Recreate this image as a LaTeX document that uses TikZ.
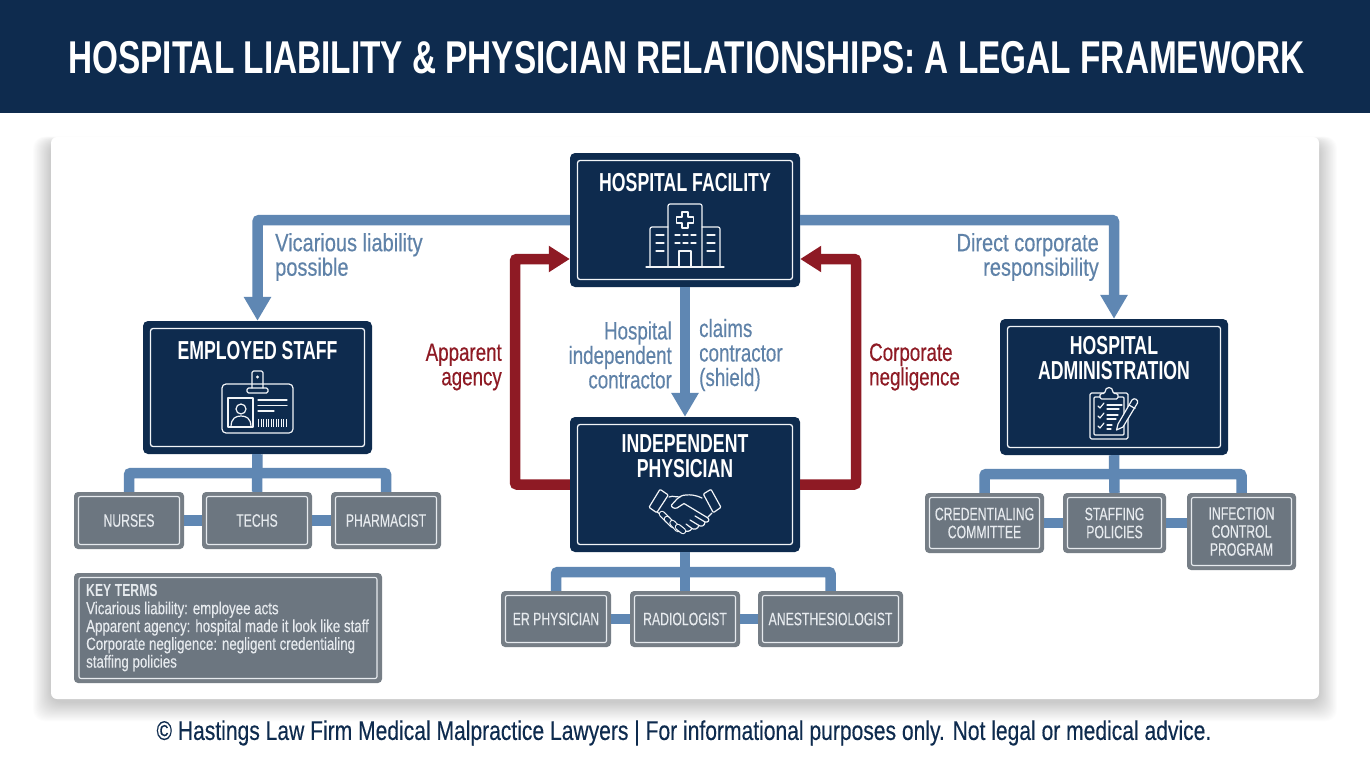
\documentclass[tikz,border=0pt]{standalone}
\usepackage{fontspec}
\usetikzlibrary{arrows.meta,calc}
\setmainfont{Liberation Sans}
\newfontfamily\nar[FakeStretch=0.68,FakeBold=0.25]{Liberation Sans}
\newfontfamily\narlab[FakeStretch=0.75,FakeBold=0.35]{Liberation Sans}
\newfontfamily\nartop[FakeStretch=0.80,FakeBold=0.35]{Liberation Sans}
\newfontfamily\narkey[FakeStretch=0.76,FakeBold=0.2]{Liberation Sans}
\newfontfamily\narkeyb[FakeStretch=0.70]{Liberation Sans}
\newfontfamily\narfoot[FakeStretch=0.78,FakeBold=0.3]{Liberation Sans}
\newfontfamily\narb[FakeStretch=0.68]{Liberation Sans}
\newfontfamily\narti[FakeStretch=0.725]{Liberation Sans}
\definecolor{navy}{HTML}{0E2B4E}
\definecolor{linkblue}{HTML}{5F87B3}
\definecolor{lblblue}{HTML}{5F82A8}
\definecolor{wine}{HTML}{8E1A24}
\definecolor{greyedge}{HTML}{767E86}
\definecolor{greyfill}{HTML}{6C7680}
\definecolor{icon}{HTML}{F2F5F8}
\definecolor{subline}{HTML}{E6EAEE}
\tikzset{
  bigbox/.style={fill=navy,rounded corners=5pt,inner sep=0,draw=none},
  biginner/.style={draw=icon,line width=1.3pt,rounded corners=2.5pt,inner sep=0,fill=none},
  subbox/.style={fill=greyedge,rounded corners=4pt,inner sep=0,draw=none},
  subinner/.style={draw=subline,fill=greyfill,line width=1.1pt,rounded corners=2pt,inner sep=0},
  bigtxt/.style={inner sep=0,align=center,text=white,font=\narb\bfseries\fontsize{26}{25}\selectfont},
  subtxt/.style={inner sep=0,align=center,text=subline,font=\nar\fontsize{18}{18}\selectfont},
  lab/.style={inner sep=0,font=\narlab\fontsize{25}{24.5}\selectfont},
  toplab/.style={inner sep=0,font=\nartop\fontsize{25}{24.5}\selectfont},
  bluelink/.style={draw=linkblue,line width=10.5pt,rounded corners=2pt},
  bluearrow/.style={bluelink,-{Triangle[length=24pt,width=26pt]}},
  redarrow/.style={draw=wine,line width=10.5pt,rounded corners=2pt,-{Triangle[length=21pt,width=25pt]}},
  ico/.style={draw=icon,line width=1.2pt,line cap=round,line join=round},
}
\newcommand{\bigb}[5]{% name x1 y1 x2 y2
  \node[bigbox,minimum width=(#4-#2)*1pt,minimum height=(#5-#3)*1pt] (#1) at ({(#2+#4)/2},{(#3+#5)/2}) {};
  \node[biginner,minimum width=(#4-#2-15)*1pt,minimum height=(#5-#3-15)*1pt] (#1i) at (#1.center) {};}
\newcommand{\subb}[6]{% name x1 y1 x2 y2 text
  \node[subbox,minimum width=(#4-#2)*1pt,minimum height=(#5-#3)*1pt] (#1) at ({(#2+#4)/2},{(#3+#5)/2}) {};
  \node[subinner,minimum width=(#4-#2-9)*1pt,minimum height=(#5-#3-9)*1pt,subtxt] (#1i) at (#1.center) {#6};}
\begin{document}
\begin{tikzpicture}[x=1pt,y=-1pt]
\useasboundingbox (0,0) rectangle (1370,765);
\fill[white] (0,0) rectangle (1370,765);
\fill[navy] (0,0) rectangle (1370,113);
\node[inner sep=0,text=white,font=\narti\bfseries\fontsize{46}{47}\selectfont] (title) at (686.5,58) {HOSPITAL LIABILITY \& PHYSICIAN RELATIONSHIPS: A LEGAL FRAMEWORK};
% panel + shadow
\foreach \s in {1,...,26}{
  \fill[black,opacity=0.007,rounded corners=12pt] ({51-\s*.7},{143-\s*.25}) rectangle ({1319+\s*.7},{702+\s*.75});
}
\node[fill=white,rounded corners=6pt,inner sep=0,minimum width=1268pt,minimum height=562pt] (panel) at (685,418) {};

% connector anchors
\coordinate (busE) at (257.5,473);
\coordinate (busI) at (685,572);
\coordinate (busA) at (1114,474);
\coordinate (rl) at (515,259);
\coordinate (rr) at (856,259);

% boxes
\bigb{hosp}{570}{153}{800}{287}
\bigb{emp}{143}{321}{372}{454}
\bigb{ind}{570}{417}{800}{552}
\bigb{adm}{1000}{319}{1228}{455}
\node[bigtxt] (thosp) at (685,183) {HOSPITAL FACILITY};
\node[bigtxt] (temp) at (257.5,351) {EMPLOYED STAFF};
\node[bigtxt] (tind) at (685,456.5) {INDEPENDENT\\PHYSICIAN};
\node[bigtxt] (tadm) at (1114,358.5) {HOSPITAL\\ADMINISTRATION};

% sub-boxes
\subb{nur}{74}{492}{184}{549}{NURSES}
\subb{tec}{202}{492}{312}{549}{TECHS}
\subb{pha}{331}{492}{441}{549}{PHARMACIST}
\subb{er}{501}{591}{611}{647}{ER PHYSICIAN}
\subb{rad}{630}{591}{740}{647}{RADIOLOGIST}
\subb{ane}{758}{591}{903}{647}{ANESTHESIOLOGIST}
\subb{cre}{925}{493}{1044}{553}{CREDENTIALING\\COMMITTEE}
\subb{sta}{1063}{493}{1166}{553}{STAFFING\\POLICIES}
\subb{inf}{1187}{493}{1296}{570}{INFECTION\\CONTROL\\PROGRAM}

% key terms
\node[fill=greyedge,rounded corners=4pt,inner sep=0,minimum width=308pt,minimum height=110pt] (key) at (228,628) {};
\node[draw=subline,fill=greyfill,line width=1.1pt,rounded corners=2pt,minimum width=298pt,minimum height=101pt,inner sep=0] (keyi) at (key.center) {};
\node[inner sep=0,anchor=north west,align=left,text=subline,font=\narkey\fontsize{17.5}{17.8}\selectfont] (keyt) at (86,584) {{\narkeyb\bfseries KEY TERMS}\\Vicarious liability: employee acts\\Apparent agency: hospital made it look like staff\\Corporate negligence: negligent credentialing\\staffing policies};

% connectors
\draw[bluearrow] (hosp.west) -| (emp.north);
\draw[bluearrow] (hosp.east) -| (adm.north);
\draw[bluearrow] (hosp.south) -- (ind.north);
\draw[redarrow] (ind.west) -| (rl) -- (hosp.west |- rl);
\draw[redarrow] (ind.east) -| (rr) -- (hosp.east |- rr);
\draw[bluelink,rounded corners=0] (emp.south) -- (tec.north);
\draw[bluelink] (nur.north) |- (busE) -| (pha.north);
\draw[bluelink,rounded corners=0] (nur.east) -- (tec.west);
\draw[bluelink,rounded corners=0] (tec.east) -- (pha.west);
\draw[bluelink,rounded corners=0] (ind.south) -- (rad.north);
\draw[bluelink] (er.north) |- (busI) -| (ane.north);
\draw[bluelink,rounded corners=0] (er.east) -- (rad.west);
\draw[bluelink,rounded corners=0] (rad.east) -- (ane.west);
\draw[bluelink,rounded corners=0] (adm.south) -- (sta.north);
\draw[bluelink] (cre.north) |- (busA) -| (inf.north);
\draw[bluelink,rounded corners=0] (cre.east) -- (sta.west);
\draw[bluelink,rounded corners=0] (sta.east) -- (inf.west |- sta.east);

% labels
\node[toplab,text=lblblue,anchor=west,align=left] (l1) at (275,257) {Vicarious liability\\possible};
\node[toplab,text=lblblue,anchor=east,align=right] (l2) at (1099,257) {Direct corporate\\responsibility};
\node[lab,text=lblblue,anchor=east,align=right] (l3) at (672,355) {Hospital\\independent\\contractor};
\node[lab,text=lblblue,anchor=west,align=left] (l4) at (699,355) {claims\\contractor\\(shield)};
\node[lab,text=wine,anchor=east,align=right] (l5) at (502,367) {Apparent\\agency};
\node[lab,text=wine,anchor=west,align=left] (l6) at (869,367) {Corporate\\negligence};
\node[inner sep=0,text=navy,font=\narfoot\fontsize{27}{28}\selectfont] (foot) at (684,733) {© Hastings Law Firm Medical Malpractice Lawyers | For informational purposes only. Not legal or medical advice.};

% hospital icon
\begin{scope}[ico]
\draw (646,267) -- (724,267);
\draw[rounded corners=2pt] (668,267) -- (668,204) -- (702,204) -- (702,267);
\draw[rounded corners=2pt] (668,227) -- (650,227) -- (650,267);
\draw[rounded corners=2pt] (702,227) -- (720,227) -- (720,267);
\draw (679,267) -- (679,251) -- (691,251) -- (691,267);
\draw (682,212) -- (688,212) -- (688,217) -- (693.5,217) -- (693.5,223) -- (688,223) -- (688,228) -- (682,228) -- (682,223) -- (676.5,223) -- (676.5,217) -- (682,217) -- cycle;
\foreach \y in {235,243,251}{ \draw (656,\y) -- (664,\y); \draw (707,\y) -- (715,\y); }
\foreach \y in {235,243}{ \draw (675,\y) -- (680,\y); \draw (683,\y) -- (688,\y); \draw (691,\y) -- (696,\y); }
\end{scope}

% badge icon
\begin{scope}[ico]
\draw[rounded corners=4pt] (222,384) rectangle (293,433);
\draw[fill=navy,rounded corners=1.5pt] (247,388) rectangle (268,393);
\draw[rounded corners=1.5pt] (252,388) -- (252,371) -- (263,371) -- (263,388);
\fill[icon] (257.5,377) circle (1.6);
\draw (228,398) rectangle (253,427);
\draw (241,409) circle (5);
\draw (231,427) .. controls (231,418) and (236,416) .. (241,416) .. controls (246,416) and (251,418) .. (251,427);
\draw (258,400) -- (287,400); \draw (258,405.5) -- (287,405.5); \draw (258,411) -- (274,411);
\foreach \x in {258.5,261,263.5,266,268.5,271,273.5,276,278.5,281,283.5,286}{ \draw[line width=.9pt,line cap=butt] (\x,419) -- (\x,427); }
\end{scope}

% handshake icon
\begin{scope}[ico]
\draw[rounded corners=1pt] (660,489.3) -- (668.3,495) -- (656.7,512.7) -- (649,507.3) -- cycle;
\draw[rounded corners=1pt] (703.3,494) -- (711,489.3) -- (721,507.3) -- (713.3,512.7) -- cycle;
\draw (669,497) .. controls (674,495) and (676,498) .. (680,497);
\draw (702,498) .. controls (696,495) and (690,494.5) .. (686,495) .. controls (682,495) and (679,497) .. (677,499) -- (671.5,505) .. controls (671,507) and (674,509) .. (677,508) -- (684,503.5) -- (708,518);
\draw (708,518) .. controls (710,520) and (708,523) .. (705,522) -- (695,516);
\draw (705,522) .. controls (705,526) and (701,527) .. (699,525.5) -- (690,520);
\draw (699,525.5) .. controls (698,529) and (694,530) .. (692,528.5) -- (686,524);
\draw (692,528.5) .. controls (690,532) and (686,532) .. (684,530);
\draw (712,513) -- (708,517);
\draw (657,512) -- (663,516);
\foreach \a/\b/\c/\d in {662/514/668/520,667/519/673/525,672.5/523/678/529,678/527/683/531}{
  \draw[line width=6.5pt] (\a,\b) -- (\c,\d);
  \draw[navy,line width=4.2pt] (\a,\b) -- (\c,\d);
}
\end{scope}

% clipboard icon
\begin{scope}[ico]
\draw[rounded corners=1.5pt] (1090,393) rectangle (1128,439);
\draw[rounded corners=1pt] (1094,397) rectangle (1124,435);
\draw[fill=navy,rounded corners=1.5pt] (1100,399) -- (1100,393.5) -- (1105,393.5) .. controls (1105,386) and (1113,386) .. (1113,393.5) -- (1118,393.5) -- (1118,399) -- cycle;
\foreach \y in {406,416,426}{ \draw (1098,\y) -- (1100,{\y+2}) -- (1104,{\y-3}); }
\draw (1107,405) -- (1122,405); \draw (1107,409) -- (1119,409);
\draw (1107,415) -- (1118,415); \draw (1107,419) -- (1116,419);
\draw (1107,425) -- (1112,425); \draw (1107,429) -- (1111,429);
\draw[fill=navy] (1116.5,430) -- (1118,424) -- (1132,400) .. controls (1134,397) and (1139,400) .. (1137.5,403) -- (1123,427) -- cycle;
\draw (1129,405) -- (1135,408.5);
\end{scope}
\end{tikzpicture}
\end{document}
